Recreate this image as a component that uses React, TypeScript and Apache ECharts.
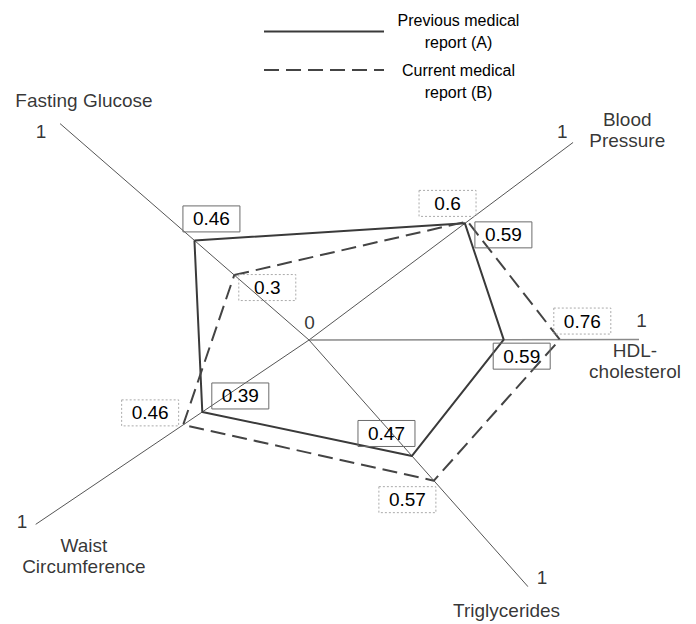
import React, { useEffect, useRef } from 'react';
import * as echarts from 'echarts';

// ---------- data ----------
const categories = ['Fasting Glucose', 'Blood Pressure', 'HDL-cholesterol', 'Triglycerides', 'Waist Circumference'];
const categoryLabels = ['Fasting Glucose', 'Blood\nPressure', 'HDL-\ncholesterol', 'Triglycerides', 'Waist\nCircumference'];
const previousA = [0.46, 0.59, 0.59, 0.47, 0.39];
const currentB = [0.3, 0.6, 0.76, 0.57, 0.46];
const axisMinValue = 0;
const axisMaxValue = 1;
const tickLabelMin = '0';
const tickLabelMax = '1';
const seriesNames = ['Previous medical report (A)', 'Current medical report (B)'];
const legendLinesA = ['Previous medical', 'report (A)'];
const legendLinesB = ['Current medical', 'report (B)'];

// ---------- layout (axis directions in degrees, label offsets in px) ----------
const axisAngles = [139, 36.8, 0.1, 311.6, 214];
const labelOffsetsA = [[17, -21.5], [38.5, 11.5], [18, 16.5], [-25.5, -22.5], [38, -16]];
const labelOffsetsB = [[33, 12.5], [-20, -18], [22.5, -18.5], [-26.5, 19], [-33, -12]];
const maxTickOffsets = [[-19, 7.5], [-11, -11], [2.5, -18.5], [14, -9], [-13.5, -3]];
const nameOffsets = [[24, -23.5], [54, -12], [-4, 22], [-21.5, 24], [48.5, 31]];
const zeroOffset = [0.5, -17.5];

const FONT = '"Liberation Sans", Arial, sans-serif';

function buildOption() {
  const axisSeries = categories.map((c, i) => ({
    type: 'line',
    coordinateSystem: 'polar',
    name: 'axis-' + c,
    data: [[axisMinValue, axisAngles[i]], [axisMaxValue, axisAngles[i]]],
    symbol: 'none',
    silent: true,
    z: 1,
    lineStyle: i === 2 ? { color: '#8a8a8a', width: 1.5 } : { color: '#555', width: 1 },
  }));

  const boxLabel = {
    show: true,
    position: 'inside',
    color: '#000',
    fontSize: 19,
    fontFamily: FONT,
    width: 57,
    height: 26,
    lineHeight: 26,
    align: 'center',
    verticalAlign: 'middle',
    padding: 0,
    formatter: (p: any) => String(p.value[0]),
  };

  const makeData = (vals: number[], offs: number[][]) => {
    const d: any[] = vals.map((v, i) => ({ value: [v, axisAngles[i]], label: { offset: offs[i] } }));
    d.push({ value: [vals[0], axisAngles[0]], label: { show: false } });
    return d;
  };

  const seriesA = {
    type: 'line',
    coordinateSystem: 'polar',
    name: seriesNames[0],
    data: makeData(previousA, labelOffsetsA),
    symbol: 'circle',
    symbolSize: 1,
    z: 3,
    itemStyle: { color: 'rgba(0,0,0,0)' },
    lineStyle: { color: '#3a3a3a', width: 2 },
    label: { ...boxLabel, borderColor: '#6b6b6b', borderWidth: 1 },
  };
  const seriesB = {
    type: 'line',
    coordinateSystem: 'polar',
    name: seriesNames[1],
    data: makeData(currentB, labelOffsetsB),
    symbol: 'circle',
    symbolSize: 1,
    z: 3,
    itemStyle: { color: 'rgba(0,0,0,0)' },
    lineStyle: { color: '#444', width: 2, type: [15, 7] },
    label: { ...boxLabel, borderColor: '#aaa', borderWidth: 1, borderType: [2, 2] },
  };

  const textLabel = { show: true, position: 'inside', color: '#000', fontSize: 19, fontFamily: FONT, lineHeight: 21, align: 'center', verticalAlign: 'middle' };

  const tickSeries = {
    type: 'scatter',
    coordinateSystem: 'polar',
    name: 'ticks',
    silent: true,
    symbolSize: 1,
    itemStyle: { color: 'rgba(0,0,0,0)' },
    z: 4,
    data: [
      ...categories.map((c, i) => ({ value: [axisMaxValue, axisAngles[i]], label: { offset: maxTickOffsets[i], formatter: tickLabelMax } })),
      { value: [axisMinValue, axisAngles[0]], label: { offset: zeroOffset, formatter: tickLabelMin } },
    ],
    label: textLabel,
  };

  const nameSeries = {
    type: 'scatter',
    coordinateSystem: 'polar',
    name: 'names',
    silent: true,
    symbolSize: 1,
    itemStyle: { color: 'rgba(0,0,0,0)' },
    z: 4,
    data: categories.map((c, i) => ({ value: [axisMaxValue, axisAngles[i]], label: { offset: nameOffsets[i], formatter: categoryLabels[i] } })),
    label: textLabel,
  };

  const legendRich = { a: { width: 139, align: 'center', fontSize: 16, lineHeight: 22, color: '#000', fontFamily: FONT } };

  return {
    animation: false,
    backgroundColor: '#fff',
    textStyle: { fontFamily: FONT },
    polar: { center: [309, 340], radius: 330 },
    angleAxis: { type: 'value', min: 0, max: 360, startAngle: 0, clockwise: false, show: false },
    radiusAxis: { type: 'value', min: axisMinValue, max: axisMaxValue, show: false },
    legend: [
      {
        data: [seriesNames[0]], left: 263, top: 12.5, padding: 0, itemWidth: 120, itemHeight: 14, selectedMode: false,
        formatter: () => legendLinesA.map((t) => '{a|' + t + '}').join('\n'),
        textStyle: { rich: legendRich },
      },
      {
        data: [seriesNames[1]], left: 263, top: 40, padding: 0, itemWidth: 120, itemHeight: 14, selectedMode: false,
        formatter: () => ['{a| }', ...legendLinesB.map((t) => '{a|' + t + '}')].join('\n'),
        textStyle: { rich: legendRich },
      },
    ],
    series: [...axisSeries, seriesA, seriesB, tickSeries, nameSeries],
  };
}

export default function App() {
  const ref = useRef<HTMLDivElement>(null);
  useEffect(() => {
    if (!ref.current) return;
    const chart = echarts.init(ref.current, null, { renderer: 'svg' });
    chart.setOption(buildOption() as any);
    return () => chart.dispose();
  }, []);
  return <div ref={ref} style={{ position: 'absolute', left: 0, top: 0, width: 696, height: 624, background: '#fff' }} />;
}
